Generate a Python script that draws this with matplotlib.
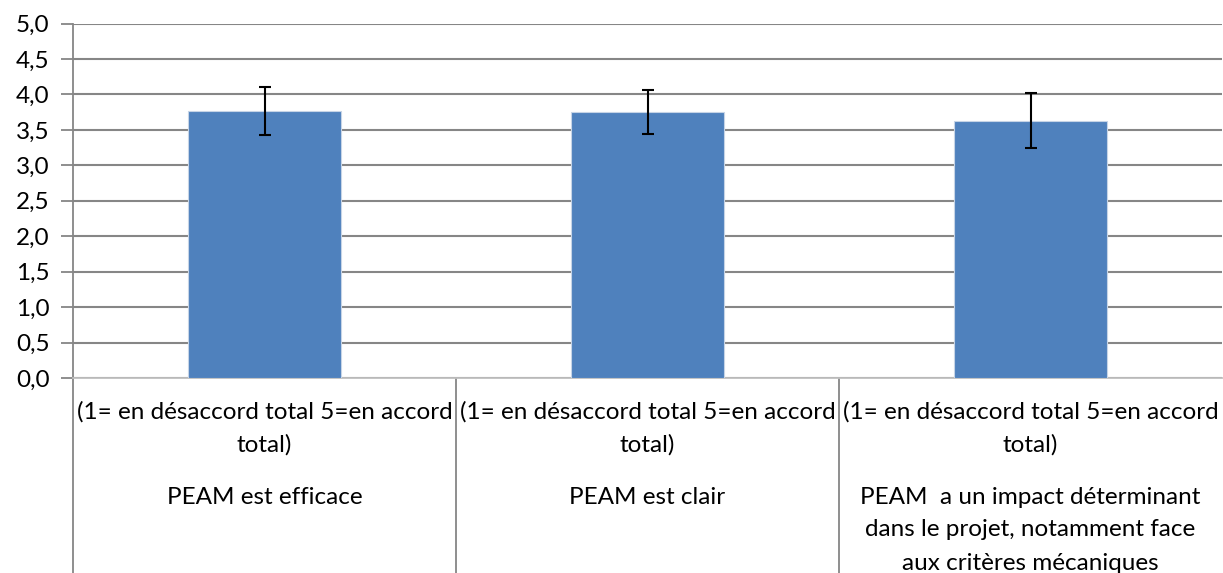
import matplotlib.pyplot as plt
from matplotlib.ticker import FuncFormatter

# Valeurs
categories = ["PEAM est efficace",
              "PEAM est clair",
              "PEAM  a un impact déterminant\ndans le projet, notamment face\naux critères mécaniques"]
scale_label = "(1= en désaccord total 5=en accord\ntotal)"
moyennes = [3.77, 3.75, 3.63]
erreurs = [0.34, 0.31, 0.39]
yticks = [0.0, 0.5, 1.0, 1.5, 2.0, 2.5, 3.0, 3.5, 4.0, 4.5, 5.0]

W, H = 1223, 573
fig = plt.figure(figsize=(W / 100, H / 100), dpi=100)
plt.rcParams['font.family'] = ['Lato', 'DejaVu Sans']

# zone du tracé (pixels du modèle)
x0, x1, ytop, ybot = 73, 1222, 23.5, 378
ax = fig.add_axes([x0 / W, 1 - ybot / H, (x1 - x0) / W, (ybot - ytop) / H])

xs = range(len(moyennes))
ax.bar(xs, moyennes, width=0.40, color='#4F81BD', edgecolor='#C6D4E6',
       linewidth=0.8, zorder=3)
ax.errorbar(xs, moyennes, yerr=erreurs, fmt='none', ecolor='black',
            elinewidth=1.5, capsize=4.5, capthick=1.5, zorder=4)

ax.set_xlim(-0.5, len(moyennes) - 0.5)
ax.set_ylim(0, 5)
ax.set_yticks(yticks)
ax.yaxis.set_major_formatter(FuncFormatter(lambda v, p: f"{v:.1f}".replace('.', ',')))
ax.tick_params(axis='y', length=9, width=1.3, color='#868686', labelsize=17.5, pad=8)
ax.set_xticks([])
ax.grid(axis='y', color='#868686', linewidth=1.5, zorder=0)
for s in ['top', 'right']:
    ax.spines[s].set_visible(False)
ax.spines['left'].set_color('#868686')
ax.spines['left'].set_linewidth(1.3)
ax.spines['bottom'].set_color('#BFBFBF')
ax.spines['bottom'].set_linewidth(1.3)

# séparateurs des catégories sous l'axe
trans = ax.get_xaxis_transform()
low = -(H - ybot) / (ybot - ytop)
for b in [-0.5, 0.5, 1.5]:
    ax.plot([b, b], [0, low], transform=trans, color='#868686',
            linewidth=1.3, clip_on=False)

def fy(py):
    return 1 - py / H

line_h = 33
for i, cat in enumerate(categories):
    xf = (x0 + (i + 0.5) * (x1 - x0) / len(categories)) / W
    for k, ligne in enumerate(scale_label.split('\n')):
        fig.text(xf, fy(412 + k * line_h), ligne, ha='center', va='center',
                 fontsize=17.5, color='black')
    for k, ligne in enumerate(cat.split('\n')):
        fig.text(xf, fy(497 + k * line_h), ligne, ha='center', va='center',
                 fontsize=17.5, color='black')

fig.savefig('out.png', dpi=100)
